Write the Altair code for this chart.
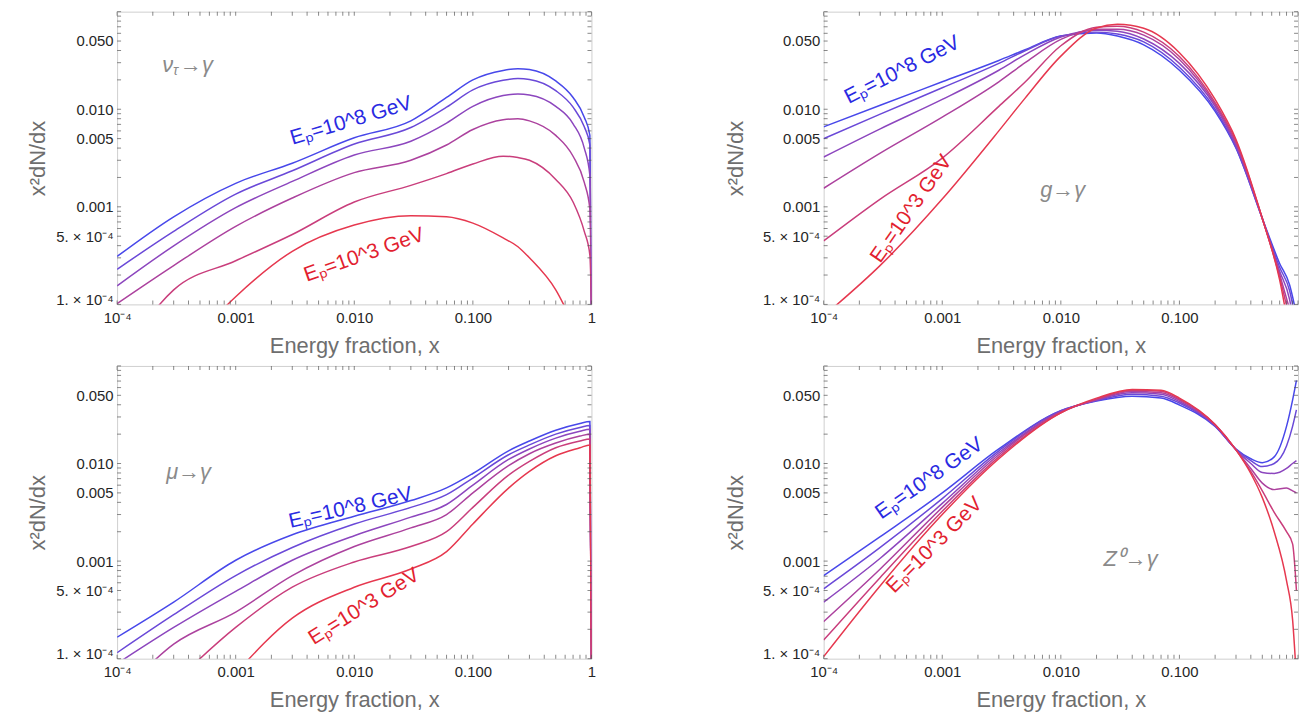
import altair as alt
import pandas as pd

# ---------------------------------------------------------------------------
# Photon fragmentation spectra x^2 dN/dx for several primary energies E_p
# ---------------------------------------------------------------------------
ENERGY_KEYS = ["10^8", "10^7", "10^6", "10^5", "10^4", "10^3"]
LINE_COLORS = ["#4848ea", "#6a49d8", "#8c46be", "#ac429e", "#c93e7c", "#e6384f"]

# nu_tau -> gamma
NUTAU_X = [0.0001, 0.0003, 0.001, 0.003, 0.01, 0.03, 0.06, 0.1, 0.18, 0.24, 0.3, 0.5, 0.7, 0.87, 0.97, 1.0]
NUTAU_Y = {
    "10^8": [3.1e-4, 7.9e-4, 1.74e-3, 2.8e-3, 5.1e-3, 7.6e-3, 1.32e-2, 2.0e-2, 2.5e-2, 2.6e-2, 2.55e-2, 1.95e-2, 1.32e-2, 8.3e-3, 5.4e-3, 1e-4],
    "10^7": [2.29e-4, 5.6e-4, 1.35e-3, 2.34e-3, 4.4e-3, 6.5e-3, 1.05e-2, 1.58e-2, 1.98e-2, 2.06e-2, 2.02e-2, 1.55e-2, 1.05e-2, 6.6e-3, 4.3e-3, 1e-4],
    "10^6": [1.55e-4, 3.98e-4, 9.8e-4, 1.82e-3, 3.4e-3, 4.7e-3, 7.2e-3, 1.07e-2, 1.38e-2, 1.43e-2, 1.40e-2, 1.07e-2, 7.1e-3, 4.0e-3, 2.1e-3, 1e-4],
    "10^5": [1.02e-4, 2.5e-4, 6.3e-4, 1.23e-3, 2.24e-3, 3.0e-3, 4.3e-3, 6.2e-3, 7.8e-3, 8.0e-3, 7.6e-3, 5.4e-3, 3.3e-3, 1.78e-3, 9.5e-4, 1e-4],
    "10^4": [2.5e-5, 1.41e-4, 2.8e-4, 5.2e-4, 1.12e-3, 1.66e-3, 2.19e-3, 2.75e-3, 3.3e-3, 3.2e-3, 3.0e-3, 1.91e-3, 1.12e-3, 5.6e-4, 3.2e-4, 1e-4],
    "10^3": [None, 2.5e-5, 1.2e-4, 3.5e-4, 6.5e-4, 8.1e-4, 7.9e-4, 6.8e-4, 4.8e-4, 3.9e-4, 3.0e-4, 1.41e-4, 6.3e-5, None, None, None],
}

# g -> gamma
GLUON_X = [0.0001, 0.0003, 0.001, 0.003, 0.005, 0.01, 0.02, 0.03, 0.05, 0.1, 0.2, 0.3, 0.5, 0.7, 0.85, 0.95]
GLUON_Y = {
    "10^8": [6.6e-3, 1.10e-2, 1.91e-2, 3.16e-2, 4.07e-2, 5.62e-2, 6.03e-2, 5.62e-2, 4.57e-2, 2.51e-2, 9.5e-3, 3.98e-3, 7.6e-4, 2.63e-4, 1.58e-4, 8.9e-5],
    "10^7": [5.0e-3, 8.9e-3, 1.66e-2, 2.95e-2, 3.98e-2, 5.62e-2, 6.17e-2, 5.89e-2, 4.9e-2, 2.69e-2, 1.0e-2, 4.07e-3, 7.6e-4, 2.4e-4, 1.38e-4, 7.1e-5],
    "10^6": [3.24e-3, 6.3e-3, 1.26e-2, 2.51e-2, 3.63e-2, 5.5e-2, 6.46e-2, 6.31e-2, 5.25e-2, 2.95e-2, 1.07e-2, 4.27e-3, 7.6e-4, 2.19e-4, 1.12e-4, 5.0e-5],
    "10^5": [1.55e-3, 3.55e-3, 8.3e-3, 1.91e-2, 3.0e-2, 5.2e-2, 6.61e-2, 6.61e-2, 5.75e-2, 3.24e-2, 1.12e-2, 4.47e-3, 7.6e-4, 2.04e-4, 8.9e-5, None],
    "10^4": [4.47e-4, 1.2e-3, 3.16e-3, 1.07e-2, 1.9e-2, 4.47e-2, 6.92e-2, 7.08e-2, 6.17e-2, 3.47e-2, 1.17e-2, 4.68e-3, 7.6e-4, 1.91e-4, 7.1e-5, None],
    "10^3": [7.6e-5, 2.51e-4, 1.2e-3, 6.0e-3, 1.3e-2, 3.5e-2, 6.8e-2, 7.41e-2, 6.76e-2, 3.8e-2, 1.26e-2, 4.9e-3, 7.6e-4, 1.78e-4, 5.0e-5, None],
}

# mu -> gamma
MUON_X = [0.0001, 0.0003, 0.001, 0.003, 0.01, 0.03, 0.06, 0.1, 0.2, 0.3, 0.5, 0.8, 0.97, 1.0]
MUON_Y = {
    "10^8": [1.66e-4, 3.8e-4, 1.02e-3, 1.86e-3, 2.88e-3, 4.17e-3, 5.62e-3, 7.9e-3, 1.35e-2, 1.70e-2, 2.19e-2, 2.57e-2, 2.69e-2, 1e-4],
    "10^7": [1.15e-4, 2.82e-4, 7.1e-4, 1.38e-3, 2.4e-3, 3.55e-3, 4.79e-3, 7.1e-3, 1.23e-2, 1.55e-2, 2.0e-2, 2.34e-2, 2.45e-2, 1e-4],
    "10^6": [8.9e-5, 2.09e-4, 4.9e-4, 1.02e-3, 1.82e-3, 2.82e-3, 3.8e-3, 6.0e-3, 1.10e-2, 1.41e-2, 1.82e-2, 2.14e-2, 2.24e-2, 1e-4],
    "10^5": [4.0e-5, 1.41e-4, 3.0e-4, 7.1e-4, 1.41e-3, 2.19e-3, 3.0e-3, 5.0e-3, 9.5e-3, 1.26e-2, 1.62e-2, 1.91e-2, 2.0e-2, 1e-4],
    "10^4": [None, 5.6e-5, 2.09e-4, 5.4e-4, 9.8e-4, 1.41e-3, 2.0e-3, 3.55e-3, 7.6e-3, 1.05e-2, 1.45e-2, 1.70e-2, 1.78e-2, 1e-4],
    "10^3": [None, None, 7.1e-5, 2.6e-4, 5.4e-4, 8.3e-4, 1.25e-3, 2.4e-3, 5.6e-3, 8.3e-3, 1.20e-2, 1.45e-2, 1.55e-2, 1e-4],
}

# Z0 -> gamma
ZBOSON_X = [0.0001, 0.0003, 0.001, 0.003, 0.01, 0.02, 0.04, 0.07, 0.1, 0.2, 0.3, 0.4, 0.5, 0.63, 0.8, 0.9, 0.97]
ZBOSON_Y = {
    "10^8": [7.1e-4, 1.78e-3, 5.0e-3, 1.41e-2, 3.47e-2, 4.37e-2, 4.9e-2, 4.68e-2, 3.98e-2, 2.4e-2, 1.41e-2, 1.12e-2, 1.02e-2, 1.17e-2, 2.4e-2, 4.47e-2, 7.1e-2],
    "10^7": [5.2e-4, 1.38e-3, 4.37e-3, 1.35e-2, 3.47e-2, 4.42e-2, 5.13e-2, 4.9e-2, 4.17e-2, 2.43e-2, 1.40e-2, 1.07e-2, 9.3e-3, 1.0e-2, 1.51e-2, 2.4e-2, 3.55e-2],
    "10^6": [3.8e-4, 1.07e-3, 3.9e-3, 1.29e-2, 3.39e-2, 4.47e-2, 5.3e-2, 5.13e-2, 4.32e-2, 2.45e-2, 1.38e-2, 1.0e-2, 8.1e-3, 7.9e-3, 8.9e-3, 1.0e-2, 1.07e-2],
    "10^5": [2.4e-4, 8.3e-4, 3.55e-3, 1.23e-2, 3.39e-2, 4.52e-2, 5.5e-2, 5.3e-2, 4.47e-2, 2.48e-2, 1.38e-2, 8.9e-3, 6.3e-3, 5.4e-3, 5.6e-3, 5.25e-3, 5.0e-3],
    "10^4": [1.55e-4, 6.8e-4, 3.24e-3, 1.17e-2, 3.31e-2, 4.57e-2, 5.62e-2, 5.5e-2, 4.57e-2, 2.51e-2, 1.38e-2, 8.3e-3, 5.25e-3, 3.16e-3, 2.0e-3, 1.5e-3, 5.0e-4],
    "10^3": [1.05e-4, 5.6e-4, 3.0e-3, 1.12e-2, 3.31e-2, 4.68e-2, 5.75e-2, 5.62e-2, 4.68e-2, 2.51e-2, 1.38e-2, 7.9e-3, 4.47e-3, 2.0e-3, 6.3e-4, 2.51e-4, 6.3e-5],
}

# Axis tick values and their printed labels
X_TICK_VALUES = [1e-4, 1e-3, 1e-2, 1e-1, 1.0]
X_TICK_LABELS = ["10⁻⁴", "0.001", "0.010", "0.100", "1"]
Y_TICK_VALUES = [1e-4, 5e-4, 1e-3, 5e-3, 1e-2, 5e-2]
Y_TICK_LABELS = ["1. × 10⁻⁴", "5. × 10⁻⁴", "0.001", "0.005", "0.010", "0.050"]
X_FRAME_TICKS = [m * 10.0 ** k for k in range(-4, 0) for m in range(1, 10)] + [1.0]
Y_FRAME_TICKS = [m * 10.0 ** k for k in range(-4, -1) for m in range(1, 10)] + [0.1]

# Annotation anchors (data coordinates) and text angles
ANNOT = {
    "nutau": {"hi": (0.0094, 0.0076, 343.3), "lo": (0.0121, 3.2e-4, 340.6),
              "name": (2.4e-4, 0.0283), "title_x": -68, "last_label": True},
    "gluon": {"hi": (4.6e-4, 0.0252, 333.0), "lo": (5.5e-4, 9.5e-4, 305.0),
              "name": (6.7e-3, 1.5e-3), "title_x": -77, "last_label": False},
    "muon": {"hi": (0.0093, 3.5e-3, 347.0), "lo": (0.0121, 3.4e-4, 328.0),
             "name": (2.6e-4, 8.2e-3), "title_x": -68, "last_label": True},
    "zboson": {"hi": (7.8e-4, 7.0e-3, 325.0), "lo": (8.6e-4, 1.45e-3, 315.0),
               "name": (0.0229, 1.04e-3), "title_x": -77, "last_label": False},
}

# Process names: list of (text, dx, dy, size) pieces
NAMES = {
    "nutau": [("ν", 0, 0, 22), ("τ", 11, 6, 14), ("→γ", 18, 0, 22)],
    "gluon": [("g→γ", 0, 0, 22)],
    "muon": [("μ→γ", 0, 0, 22)],
    "zboson": [("Z⁰→γ", 0, 0, 22)],
}

W, H = 478, 295
FONT = "Liberation Sans"


def label_expr(values, labels):
    expr = "''"
    for v, lab in reversed(list(zip(values, labels))):
        expr = f"abs(datum.value - {v}) < {v * 0.01} ? '{lab}' : ({expr})"
    return expr


def panel(key, xs, ys):
    info = ANNOT[key]
    rows = []
    for e in ENERGY_KEYS:
        for xv, yv in zip(xs, ys[e]):
            rows.append({"x": xv, "y": yv, "E": e})
    df = pd.DataFrame(rows)

    xscale = alt.Scale(type="log", domain=[1e-4, 1.0], nice=False)
    yscale = alt.Scale(type="log", domain=[1e-4, 0.1], nice=False)

    x_labels = X_TICK_LABELS if info["last_label"] else X_TICK_LABELS[:-1] + [""]
    x_axis = alt.Axis(
        values=X_TICK_VALUES, labelExpr=label_expr(X_TICK_VALUES, x_labels),
        title="Energy fraction, x", ticks=False, domain=False, grid=False,
        labelFlush=False, labelOverlap=False, labelPadding=6,
        titleY=48, titleBaseline="alphabetic",
    )
    y_axis = alt.Axis(
        values=Y_TICK_VALUES, labelExpr=label_expr(Y_TICK_VALUES, Y_TICK_LABELS),
        title="x²dN/dx", ticks=False, domain=False, grid=False,
        labelOverlap=False, labelPadding=4,
        labelBaseline={"condition": {"test": "datum.value < 0.0002", "value": "alphabetic"},
                       "value": "middle"},
        titleX=info["title_x"], titleY=H / 2, titleAngle=270,
        titleBaseline="bottom", titleAlign="center",
    )

    def xenc(field):
        return alt.X(field, type="quantitative", scale=xscale, axis=x_axis)

    def yenc(field):
        return alt.Y(field, type="quantitative", scale=yscale, axis=y_axis)

    lines = alt.Chart(df).mark_line(
        clip=True, interpolate="monotone", strokeWidth=1.5
    ).encode(
        x=xenc("x"),
        y=yenc("y"),
        color=alt.Color("E:N", scale=alt.Scale(domain=ENERGY_KEYS, range=LINE_COLORS), legend=None),
    )

    xt = pd.DataFrame({"v": X_FRAME_TICKS})
    yt = pd.DataFrame({"v": Y_FRAME_TICKS})
    tick_style = dict(size=4, thickness=1, color="#555555")
    frame_ticks = [
        alt.Chart(xt).mark_tick(**tick_style).encode(x=xenc("v"), y=alt.value(H - 2)),
        alt.Chart(xt).mark_tick(**tick_style).encode(x=xenc("v"), y=alt.value(2)),
        alt.Chart(yt).mark_tick(**tick_style).encode(y=yenc("v"), x=alt.value(2)),
        alt.Chart(yt).mark_tick(**tick_style).encode(y=yenc("v"), x=alt.value(W - 2)),
    ]

    texts = []
    for which, txt, col in (("hi", "Eₚ=10^8 GeV", "#2a2ae2"), ("lo", "Eₚ=10^3 GeV", "#e21f30")):
        ax, ay, ang = info[which]
        texts.append(
            alt.Chart(pd.DataFrame({"x": [ax], "y": [ay], "t": [txt]})).mark_text(
                angle=ang, color=col, fontSize=21, font=FONT,
                align="center", baseline="middle",
            ).encode(x=xenc("x"), y=yenc("y"), text="t:N")
        )
    nx, ny = info["name"]
    for piece, dx, dy, size in NAMES[key]:
        texts.append(
            alt.Chart(pd.DataFrame({"x": [nx], "y": [ny], "t": [piece]})).mark_text(
                color="#8a8a8a", fontSize=size, font=FONT, fontStyle="italic",
                align="left", baseline="middle", dx=dx, dy=dy,
            ).encode(x=xenc("x"), y=yenc("y"), text="t:N")
        )

    return alt.layer(lines, *frame_ticks, *texts).properties(width=W, height=H)


chart = alt.concat(
    panel("nutau", NUTAU_X, NUTAU_Y),
    panel("gluon", GLUON_X, GLUON_Y),
    panel("muon", MUON_X, MUON_Y),
    panel("zboson", ZBOSON_X, ZBOSON_Y),
    columns=2,
    spacing={"row": 62, "column": 234},
    bounds="flush",
).properties(
    padding={"left": 26, "top": 8, "right": 0, "bottom": 0},
    background="white",
).configure_view(
    stroke="#cfcfcf", strokeWidth=1,
).configure_axis(
    labelFont=FONT, labelFontSize=15, labelColor="#262626",
    titleFont=FONT, titleFontSize=22, titleColor="#6e6e6e", titleFontWeight="normal",
)

chart.save("out.html", embed_options={"renderer": "svg", "actions": False})
